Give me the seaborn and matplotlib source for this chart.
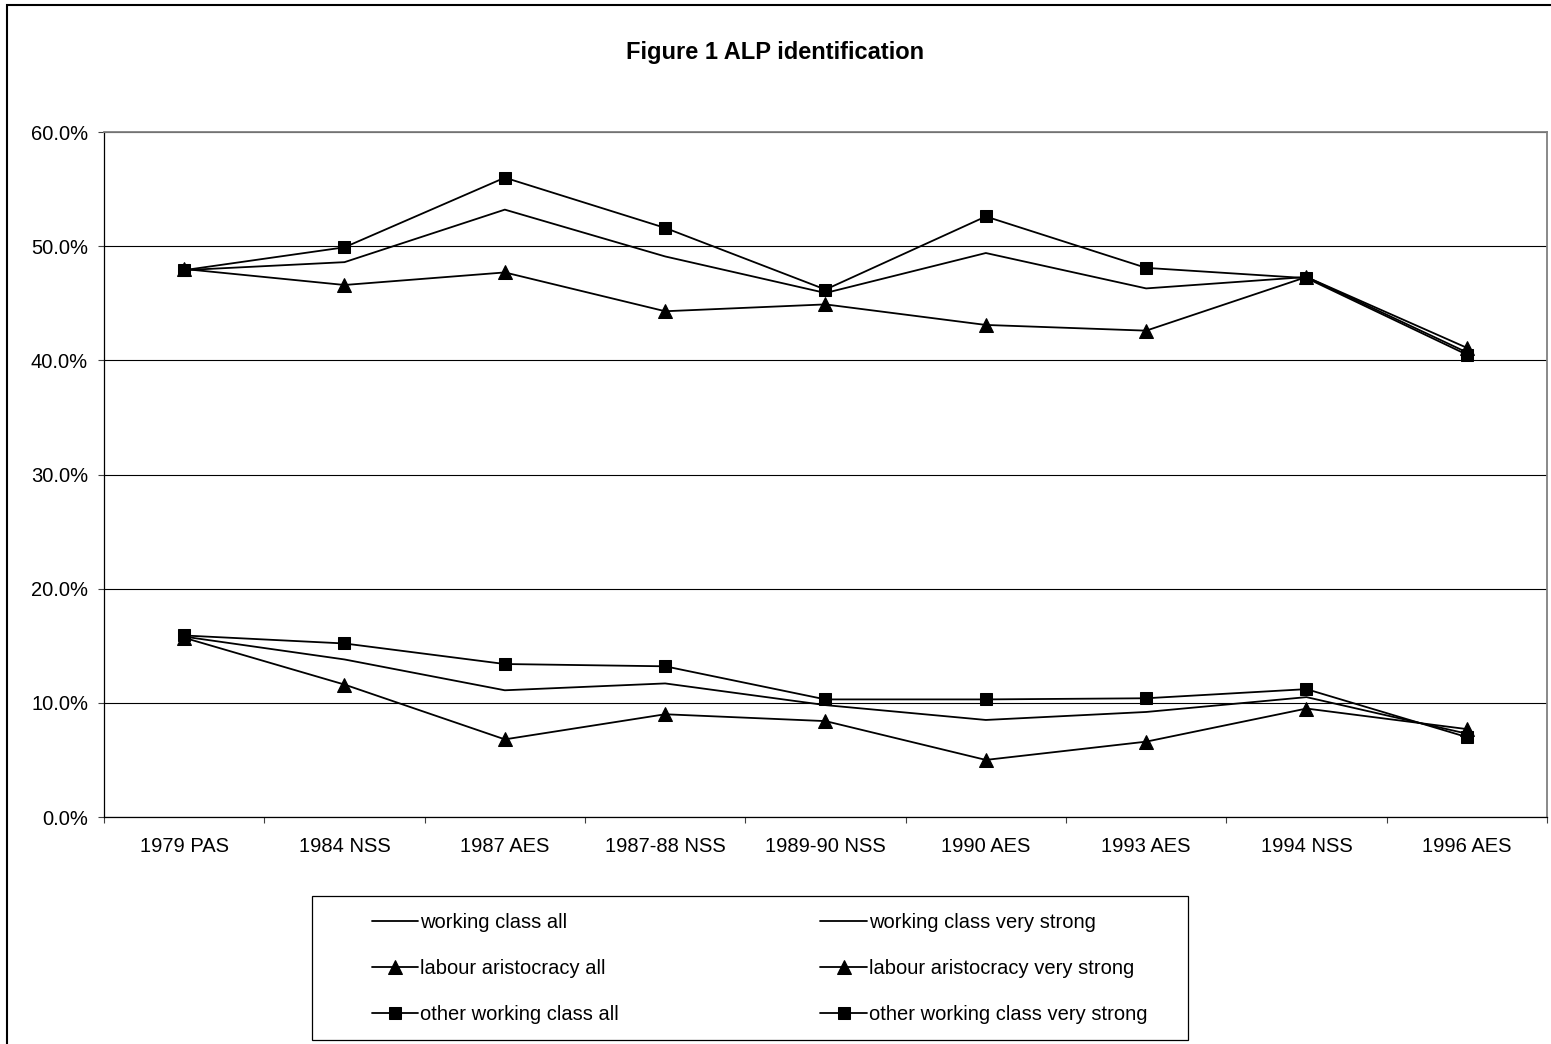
# Figure 1 ALP identification - line chart recreation
import numpy as np
import pandas as pd
import matplotlib
matplotlib.use("Agg")
import matplotlib.pyplot as plt
import matplotlib.ticker as mticker
from matplotlib.patches import Rectangle
import seaborn as sns

# Data (percent)
surveys = ['1979 PAS', '1984 NSS', '1987 AES', '1987-88 NSS', '1989-90 NSS',
           '1990 AES', '1993 AES', '1994 NSS', '1996 AES']
wc_all = [47.9, 48.6, 53.2, 49.1, 45.9, 49.4, 46.3, 47.3, 40.7]
la_all = [48.0, 46.6, 47.7, 44.3, 44.9, 43.1, 42.6, 47.3, 41.1]
owc_all = [47.9, 49.9, 56.0, 51.6, 46.2, 52.6, 48.1, 47.2, 40.5]
wc_vs = [15.8, 13.8, 11.1, 11.7, 9.8, 8.5, 9.2, 10.5, 7.3]
la_vs = [15.7, 11.6, 6.8, 9.0, 8.4, 5.0, 6.6, 9.5, 7.7]
owc_vs = [15.9, 15.2, 13.4, 13.2, 10.3, 10.3, 10.4, 11.2, 7.0]

labels = ['working class all', 'labour aristocracy all', 'other working class all',
          'working class very strong', 'labour aristocracy very strong',
          'other working class very strong']
series = [wc_all, la_all, owc_all, wc_vs, la_vs, owc_vs]
markers = ['', '^', 's', '', '^', 's']
msizes = [0, 10, 8.5, 0, 10, 8.5]

sns.set_style("white")
plt.rcParams['font.family'] = ['Liberation Sans', 'DejaVu Sans']
plt.rcParams['text.color'] = 'black'
plt.rcParams['xtick.color'] = 'black'
plt.rcParams['ytick.color'] = 'black'

fig = plt.figure(figsize=(15.51, 10.44), dpi=100)
ax = fig.add_axes([0.06705, 0.21743, 0.93037, 0.65613])

for lab, vals, mk, ms in zip(labels, series, markers, msizes):
    df = pd.DataFrame({'survey': surveys, 'value': vals})
    sns.lineplot(data=df, x='survey', y='value', ax=ax, sort=False,
                 color='black', lw=1.3, marker=mk, markersize=ms,
                 markeredgecolor='black', markeredgewidth=0.75, label=lab)

ax.set_xlim(-0.5, len(surveys) - 0.5)
ax.set_ylim(0, 60)
ax.set_xlabel('')
ax.set_ylabel('')

# y axis
ax.set_yticks(np.arange(0, 61, 10))
ax.yaxis.set_major_formatter(mticker.FuncFormatter(lambda v, p: f'{v:.1f}%'))
ax.yaxis.grid(True, color='black', lw=0.8)
ax.set_axisbelow(True)

# x axis: ticks at boundaries, labels at centres
ax.set_xticks(np.arange(-0.5, len(surveys)), labels=[''] * (len(surveys) + 1))
ax.set_xticks(np.arange(len(surveys)), labels=surveys, minor=True)
ax.tick_params(axis='x', which='major', direction='out', length=4.5, width=0.8, color='#404040')
ax.tick_params(axis='x', which='minor', length=0, pad=14.5, labelsize=14.5, labelcolor='black')
ax.tick_params(axis='y', which='major', direction='out', length=4.5, width=0.8,
               color='#404040', pad=7, labelsize=14.5, labelcolor='black')
ax.tick_params(left=True, bottom=True)

for side in ['left', 'bottom']:
    ax.spines[side].set_color('black')
    ax.spines[side].set_linewidth(0.9)
for side in ['top', 'right']:
    ax.spines[side].set_visible(True)
    ax.spines[side].set_color('#808080')
    ax.spines[side].set_linewidth(1.3)

# legend in a box below the chart
ax.get_legend().remove()
handles, hlabels = ax.get_legend_handles_labels()
fig.legend(handles, hlabels, ncol=2, frameon=False, loc='upper left',
           bbox_to_anchor=(372 / 1551, 1 - 913 / 1044), borderpad=0, borderaxespad=0,
           fontsize=14.5, handlelength=2.3, handletextpad=0.1,
           labelspacing=1.33, columnspacing=10.0, labelcolor='black')
fig.patches.append(Rectangle((312 / 1551, 1 - 1040 / 1044), 876 / 1551, 144 / 1044,
                             transform=fig.transFigure, fill=False, ec='black', lw=0.9))

# outer chart border
fig.patches.append(Rectangle((7 / 1551, -0.05), 1.2, 1.05 - 5 / 1044,
                             transform=fig.transFigure, fill=False, ec='black', lw=1.5))

fig.text(775 / 1551, 1 - 52 / 1044, 'Figure 1 ALP identification', ha='center',
         va='center', fontsize=17, fontweight='bold', color='black')

fig.savefig('out.png', dpi=100)
